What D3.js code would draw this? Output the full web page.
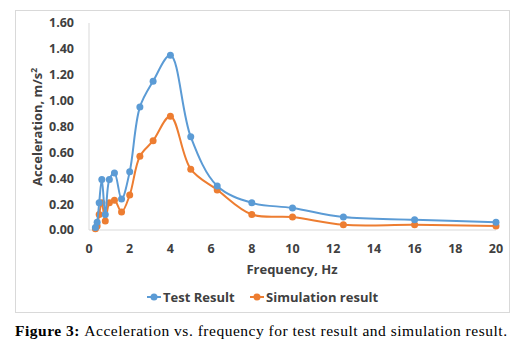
<html>
<head>
    <script src="https://d3js.org/d3.v7.min.js"></script>
    <style>
        body { margin: 0; background: white; }
        text { font-family: "Open Sans", sans-serif; fill: #404040; }
    </style>
</head>

<body>
    <svg id="chart"></svg>

    <script>
        // 1/3-octave band centre frequencies, Hz
        var Freq = [0.315, 0.4, 0.5, 0.63, 0.8, 1.0, 1.25, 1.6, 2, 2.5, 3.15, 4, 5, 6.3, 8, 10, 12.5, 16, 20];
        var TestResult = [0.02, 0.06, 0.21, 0.39, 0.12, 0.39, 0.44, 0.24, 0.45, 0.95, 1.15, 1.35, 0.72, 0.34, 0.21, 0.17, 0.10, 0.08, 0.06];
        var SimResult = [0.01, 0.03, 0.12, 0.21, 0.07, 0.21, 0.23, 0.14, 0.27, 0.57, 0.69, 0.88, 0.47, 0.31, 0.12, 0.10, 0.04, 0.04, 0.03];
        var XTicks = [0, 2, 4, 6, 8, 10, 12, 14, 16, 18, 20];
        var YTicks = [0, 0.2, 0.4, 0.6, 0.8, 1.0, 1.2, 1.4, 1.6];
        var SeriesNames = ["Test Result", "Simulation result"];
        var SeriesColors = ["#5B9BD5", "#ED7D31"];

        var W = 526, H = 352;
        var svg = d3.select("#chart").attr("width", W).attr("height", H);

        // chart frame
        svg.append("rect").attr("x", 15.5).attr("y", 10.5).attr("width", 494).attr("height", 302)
            .attr("fill", "white").attr("stroke", "#d9d9d9").attr("stroke-width", 1);

        var x = d3.scaleLinear().domain([0, 20]).range([89, 496]);
        var y = d3.scaleLinear().domain([0, 1.6]).range([230, 23]);

        // axis lines
        svg.append("line").attr("x1", x(0)).attr("x2", x(0)).attr("y1", y(1.6)).attr("y2", y(0))
            .attr("stroke", "#d9d9d9");
        svg.append("line").attr("x1", x(0)).attr("x2", x(20)).attr("y1", y(0)).attr("y2", y(0))
            .attr("stroke", "#d9d9d9");

        svg.selectAll(".ytick").data(YTicks).enter().append("text").classed("ytick", true)
            .attr("x", 74).attr("y", function(d){ return y(d); }).attr("dy", "0.35em")
            .attr("text-anchor", "end").style("font-size", "12.5px").style("font-weight", "bold")
            .text(function(d){ return d3.format(".2f")(d); });

        svg.selectAll(".xtick").data(XTicks).enter().append("text").classed("xtick", true)
            .attr("x", function(d){ return x(d); }).attr("y", 249).attr("dy", "0.35em")
            .attr("text-anchor", "middle").style("font-size", "12.5px").style("font-weight", "bold")
            .text(function(d){ return d; });

        // axis titles
        svg.append("text").attr("x", 292).attr("y", 269).attr("dy", "0.35em")
            .attr("text-anchor", "middle").style("font-size", "13px").style("font-weight", "bold")
            .text("Frequency, Hz");
        var yt = svg.append("text").attr("transform", "translate(37,127) rotate(-90)")
            .attr("dy", "0.35em").attr("text-anchor", "middle")
            .style("font-size", "13px").style("font-weight", "bold");
        yt.append("tspan").text("Acceleration, m/s");
        yt.append("tspan").attr("dy", "-0.5em").style("font-size", "8.5px").text("2");

        var line = d3.line()
            .x(function(d){ return x(d[0]); })
            .y(function(d){ return y(d[1]); })
            .curve(d3.curveCatmullRom.alpha(0.5));

        [SimResult, TestResult].forEach(function(vals)
        {
            var k = vals === TestResult ? 0 : 1;
            var pts = Freq.map(function(f, j){ return [f, vals[j]]; });
            svg.append("path").datum(pts).attr("d", line)
                .attr("fill", "none").attr("stroke", SeriesColors[k]).attr("stroke-width", 2);
            svg.selectAll(".pt" + k).data(pts).enter().append("circle").classed("pt" + k, true)
                .attr("cx", function(d){ return x(d[0]); })
                .attr("cy", function(d){ return y(d[1]); })
                .attr("r", 3.5).attr("fill", SeriesColors[k]);
        });

        // legend
        var legX = [147, 250];
        SeriesNames.forEach(function(name, k)
        {
            var g = svg.append("g").attr("transform", "translate(" + legX[k] + ",297)");
            g.append("line").attr("x1", 0).attr("x2", 14).attr("stroke", SeriesColors[k]).attr("stroke-width", 2);
            g.append("circle").attr("cx", 7).attr("r", 3.5).attr("fill", SeriesColors[k]);
            g.append("text").attr("x", 16).attr("dy", "0.35em")
                .style("font-size", "13px").style("font-weight", "bold").text(name);
        });

        // caption
        var cap = svg.append("text").attr("x", 15).attr("y", 331).attr("dy", "0.35em")
            .attr("textLength", 492).attr("lengthAdjust", "spacing")
            .style("font-family", "'Liberation Serif', serif").style("font-size", "15.5px").style("fill", "#000");
        cap.append("tspan").style("font-weight", "bold").text("Figure 3: ");
        cap.append("tspan").text("Acceleration vs. frequency for test result and simulation result.");
    </script>
</body>
</html>
